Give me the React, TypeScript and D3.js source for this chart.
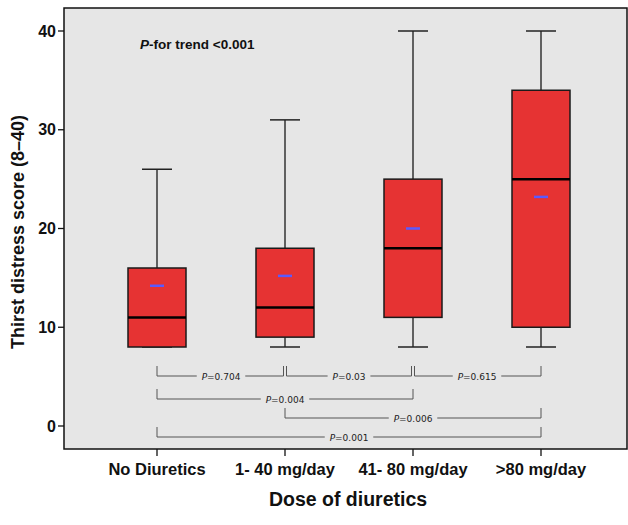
import React from "react";
import * as d3 from "d3";

const categories = ["No Diuretics", "1- 40 mg/day", "41- 80 mg/day", ">80 mg/day"];
const whiskerLow = [8, 8, 8, 8];
const q1 = [8, 9, 11, 10];
const median = [11, 12, 18, 25];
const q3 = [16, 18, 25, 34];
const whiskerHigh = [26, 31, 40, 40];
const means = [14.2, 15.2, 20, 23.2];
const yTicks = [0, 10, 20, 30, 40];

const brackets = [
  { from: 0, to: 1, row: 0, label: "0.704" },
  { from: 1, to: 2, row: 0, label: "0.03" },
  { from: 2, to: 3, row: 0, label: "0.615" },
  { from: 0, to: 2, row: 1, label: "0.004" },
  { from: 1, to: 3, row: 2, label: "0.006" },
  { from: 0, to: 3, row: 3, label: "0.001" },
];
const rowY = [376, 399, 418, 437];

export default function App() {
  const W = 628, H = 525;
  const left = 64, right = 627, top = 8, bottom = 449;
  const y = d3.scaleLinear().domain([0, 40]).range([426, 31]);
  const x = d3.scalePoint<string>().domain(categories).range([157, 541]);
  const boxW = 58, capW = 30;
  const bg = "#e6e6e6";
  const sans = "'Liberation Sans', Arial, sans-serif";

  return (
    <svg width={W} height={H} style={{ display: "block", position: "absolute", left: 0, top: 0 }}>
      <rect x={0} y={0} width={W} height={H} fill="#fff" />
      <rect x={left} y={top} width={right - left} height={bottom - top} fill={bg} stroke="#111" strokeWidth={1.5} />
      {/* y axis ticks */}
      {yTicks.map((t) => (
        <g key={t}>
          <line x1={left - 6} x2={left} y1={y(t)} y2={y(t)} stroke="#111" strokeWidth={1.3} />
          <text x={left - 8} y={y(t) + 5.5} textAnchor="end" fontFamily={sans} fontWeight="bold" fontSize={16} fill="#111">{t}</text>
        </g>
      ))}
      {/* x axis ticks */}
      {categories.map((c) => (
        <g key={c}>
          <line x1={x(c)!} x2={x(c)!} y1={bottom} y2={bottom + 7} stroke="#111" strokeWidth={1.3} />
          <text x={x(c)!} y={475} textAnchor="middle" fontFamily={sans} fontWeight="bold" fontSize={16.5} fill="#111">{c}</text>
        </g>
      ))}
      <text x={348} y={506} textAnchor="middle" fontFamily={sans} fontWeight="bold" fontSize={19.5} fill="#111">Dose of diuretics</text>
      <text transform={`translate(24,232) rotate(-90)`} textAnchor="middle" fontFamily={sans} fontWeight="bold" fontSize={18} fill="#111">Thirst distress score (8–40)</text>
      <text x={140} y={49} fontFamily={sans} fontWeight="bold" fontSize={13.5} fill="#111">
        <tspan fontStyle="italic">P</tspan>-for trend &lt;0.001
      </text>
      {/* boxes */}
      {categories.map((c, i) => {
        const cx = x(c)!;
        return (
          <g key={c}>
            <line x1={cx} x2={cx} y1={y(q3[i])} y2={y(whiskerHigh[i])} stroke="#333" strokeWidth={1.5} />
            <line x1={cx - capW / 2} x2={cx + capW / 2} y1={y(whiskerHigh[i])} y2={y(whiskerHigh[i])} stroke="#222" strokeWidth={1.5} />
            <line x1={cx} x2={cx} y1={y(q1[i])} y2={y(whiskerLow[i])} stroke="#333" strokeWidth={1.5} />
            <line x1={cx - capW / 2} x2={cx + capW / 2} y1={y(whiskerLow[i])} y2={y(whiskerLow[i])} stroke="#222" strokeWidth={1.5} />
            <rect x={cx - boxW / 2} y={y(q3[i])} width={boxW} height={y(q1[i]) - y(q3[i])} fill="#e63333" stroke="#1a1a1a" strokeWidth={1.5} />
            <line x1={cx - boxW / 2} x2={cx + boxW / 2} y1={y(median[i])} y2={y(median[i])} stroke="#000" strokeWidth={2.5} />
            <line x1={cx - 7} x2={cx + 7} y1={y(means[i])} y2={y(means[i])} stroke="#5a5aff" strokeWidth={2.5} />
          </g>
        );
      })}
      {/* brackets */}
      {brackets.map((b, k) => {
        const x1 = x(categories[b.from])! + (b.row === 0 && b.from > 0 ? 1.5 : 0);
        const x2 = x(categories[b.to])! - (b.row === 0 && b.to < 3 ? 1.5 : 0);
        const yy = rowY[b.row];
        const mid = (x(categories[b.from])! + x(categories[b.to])!) / 2;
        const tw = b.label.length * 5.7 + 20;
        return (
          <g key={k}>
            <path d={`M${x1},${yy - 10}V${yy}H${x2}V${yy - 10}`} fill="none" stroke="#555" strokeWidth={1} />
            <rect x={mid - tw / 2} y={yy - 6} width={tw} height={12} fill={bg} />
            <text x={mid} y={yy + 3.5} textAnchor="middle" fontFamily="'DejaVu Sans', Verdana, sans-serif" fontSize={9} fill="#222">
              <tspan fontStyle="italic">P</tspan>={b.label}
            </text>
          </g>
        );
      })}
    </svg>
  );
}
